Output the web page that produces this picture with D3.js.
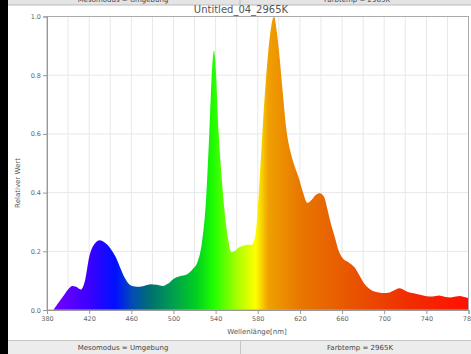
<!DOCTYPE html>
<html><head><meta charset="utf-8">
<script src="https://cdn.jsdelivr.net/npm/d3@7"></script>
<style>html,body{margin:0;padding:0;background:#fff;overflow:hidden}svg{display:block}</style>
</head><body>
<script>
const wavelengths = [386,395,400,404,408,412,416,420,425,430,434,438,442,446,450,454,458,462,468,474,478,484,490,495,500,506,513,518,523,527,531,534,537,538.5,540,543,546,549,552,555,558,562,566,570,574,578,581,584,587,590,593,595.5,598,601,604,607,611,615,619,623,627,631,635,639,643,646,649,653,657,661,665,669,673,677,681,685,690,695,700,705,710,714,718,722,728,734,740,746,752,757,763,768,772,776,780];
const values = [0,0.045,0.07,0.082,0.078,0.07,0.1,0.18,0.225,0.238,0.232,0.22,0.2,0.175,0.14,0.108,0.088,0.081,0.079,0.084,0.088,0.086,0.082,0.09,0.106,0.115,0.122,0.138,0.165,0.23,0.38,0.6,0.84,0.884,0.83,0.6,0.44,0.32,0.24,0.196,0.2,0.213,0.218,0.222,0.222,0.26,0.4,0.58,0.75,0.88,0.97,1.0,0.95,0.85,0.73,0.62,0.54,0.49,0.45,0.4,0.365,0.375,0.392,0.398,0.385,0.345,0.3,0.25,0.2,0.175,0.165,0.155,0.14,0.115,0.09,0.075,0.064,0.06,0.058,0.06,0.068,0.074,0.07,0.062,0.057,0.052,0.047,0.046,0.049,0.045,0.043,0.046,0.048,0.044,0.04];
const xTicks = [380,420,460,500,540,580,620,660,700,740,780];
const yTicks = [0,0.2,0.4,0.6,0.8,1.0];
const gradStops = [[386,"#7400ff"],[420,"#3c00ff"],[445,"#0010ff"],[462,"#0050b0"],[478,"#007070"],[500,"#00a050"],[522,"#00d020"],[538,"#20ff00"],[562,"#b0ff00"],[578,"#ffff00"],[590,"#f0a000"],[620,"#e87800"],[670,"#e85400"],[720,"#f03000"],[780,"#ff1000"]];
const title = "Untitled_04_2965K";
const status = ["Mesomodus = Umgebung","Farbtemp = 2965K"];

const W=471,H=354;
const svg=d3.select("body").append("svg").attr("width",W).attr("height",H);
const font="'DejaVu Sans', 'Liberation Sans', sans-serif";
const x=d3.scaleLinear().domain([380,780]).range([47,468.5]);
const y=d3.scaleLinear().domain([0,1]).range([310,16.5]);

// top strip
svg.append("rect").attr("x",0).attr("y",0).attr("width",W).attr("height",5).attr("fill","#e4e4e4");
svg.append("line").attr("x1",0).attr("x2",W).attr("y1",5).attr("y2",5).attr("stroke","#bbb");
svg.append("line").attr("x1",240).attr("x2",240).attr("y1",0).attr("y2",5).attr("stroke","#bbb");
svg.append("text").attr("x",123).attr("y",2).attr("text-anchor","middle").attr("font-family",font).attr("font-size",7).attr("fill","#444").text(status[0]);
svg.append("text").attr("x",357).attr("y",2).attr("text-anchor","middle").attr("font-family",font).attr("font-size",7).attr("fill","#444").text(status[1]);

// title
svg.append("text").attr("x",241).attr("y",13).attr("text-anchor","middle").attr("font-family",font).attr("font-size",10).attr("fill","#555").text(title);

// grid
const g=svg.append("g");
g.selectAll(".vg").data(d3.range(400,780,20)).join("line").attr("x1",d=>x(d)).attr("x2",d=>x(d)).attr("y1",y(1)).attr("y2",y(0)).attr("stroke","#e8e8e8").attr("stroke-width",1);
g.selectAll(".hg").data(yTicks.slice(1,5)).join("line").attr("x1",x(380)).attr("x2",x(780)).attr("y1",d=>y(d)).attr("y2",d=>y(d)).attr("stroke","#e8e8e8").attr("stroke-width",1);

// gradient
const defs=svg.append("defs");
const lg=defs.append("linearGradient").attr("id","spec").attr("gradientUnits","userSpaceOnUse").attr("x1",x(380)).attr("x2",x(780)).attr("y1",0).attr("y2",0);
gradStops.forEach(s=>lg.append("stop").attr("offset",(s[0]-380)/400).attr("stop-color",s[1]));

const data=wavelengths.map((w,i)=>[w,values[i]]);
const area=d3.area().x(d=>x(d[0])).y0(y(0)).y1(d=>y(d[1])).curve(d3.curveMonotoneX);
svg.append("path").datum(data).attr("d",area).attr("fill","url(#spec)");

// frame
svg.append("rect").attr("x",x(380)).attr("y",y(1)).attr("width",x(780)-x(380)).attr("height",y(0)-y(1)).attr("fill","none").attr("stroke","#aaa").attr("stroke-width",1);

// axes
const xa=svg.append("g").attr("transform",`translate(0,${y(0)})`).call(d3.axisBottom(x).tickValues(xTicks).tickFormat(d3.format("d")).tickSize(4).tickPadding(2));
const ya=svg.append("g").attr("transform",`translate(${x(380)},0)`).call(d3.axisLeft(y).tickValues(yTicks).tickFormat(d3.format(".1f")).tickSize(4).tickPadding(2));
[xa,ya].forEach(a=>{a.select(".domain").attr("stroke","#999");a.selectAll(".tick line").attr("stroke","#999");a.selectAll("text").attr("font-family",font).attr("font-size",6.5).attr("fill","#666");});

// axis labels
svg.append("text").attr("x",257).attr("y",334).attr("text-anchor","middle").attr("font-family",font).attr("font-size",7).attr("fill","#555").text("Wellenlänge[nm]");
svg.append("text").attr("transform","translate(20,183) rotate(-90)").attr("text-anchor","middle").attr("font-family",font).attr("font-size",7).attr("fill","#555").text("Relativer Wert");

// bottom status bar
svg.append("rect").attr("x",0).attr("y",340).attr("width",W).attr("height",14).attr("fill","#ececec");
svg.append("line").attr("x1",0).attr("x2",W).attr("y1",340.5).attr("y2",340.5).attr("stroke","#c4c4c4");
svg.append("line").attr("x1",240.5).attr("x2",240.5).attr("y1",341).attr("y2",354).attr("stroke","#c4c4c4");
svg.append("text").attr("x",123).attr("y",350).attr("text-anchor","middle").attr("font-family",font).attr("font-size",7).attr("fill","#444").text(status[0]);
svg.append("text").attr("x",360).attr("y",350).attr("text-anchor","middle").attr("font-family",font).attr("font-size",7).attr("fill","#444").text(status[1]);

// left black strip
svg.append("rect").attr("x",0).attr("y",0).attr("width",8).attr("height",H).attr("fill","#000");
</script>
</body></html>
